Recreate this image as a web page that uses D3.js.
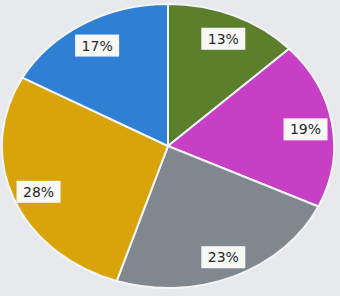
<!DOCTYPE html>
<html>
<head>
<meta charset="utf-8">
<script src="https://cdn.jsdelivr.net/npm/d3@7"></script>
<style>
  body { margin: 0; background: #e7e9ed; }
  svg { display: block; }
</style>
</head>
<body>
<div id="chart"></div>
<script>
const w = 340;
const h = 296;
const cx = 168;
const cy = 146;
const radius = 142;
const stretch = 1.17;

const categories = ["A", "B", "C", "D", "E"];
const values = [13, 19, 23, 28, 17];
const labels = ["13%", "19%", "23%", "28%", "17%"];
const colors = ["#5b7f2b", "#c73fc4", "#80878f", "#d8a40a", "#2f80d4"];

const svg = d3.select("#chart").append("svg").attr("width", w).attr("height", h);
svg.append("rect").attr("width", w).attr("height", h).attr("fill", "#e7e9ed");

const pie = d3.pie().sort(null).value((d) => d.value);
const arcs = pie(categories.map((c, i) => ({ cat: c, value: values[i], label: labels[i] })));
const arc = d3.arc().innerRadius(0).outerRadius(radius);
const labelArc = d3.arc().innerRadius(119).outerRadius(119);
const color = d3.scaleOrdinal().domain(categories).range(colors);

const g = svg.append("g").attr("transform", `translate(${cx},${cy}) scale(${stretch},1)`);
g.selectAll("path")
  .data(arcs)
  .enter()
  .append("path")
  .attr("d", arc)
  .attr("fill", (d) => color(d.data.cat))
  .attr("stroke", "#f4f5f7")
  .attr("stroke-width", 2)
  .attr("vector-effect", "non-scaling-stroke");

const lab = svg
  .selectAll("g.lab")
  .data(arcs)
  .enter()
  .append("g")
  .attr("class", "lab")
  .attr("transform", (d) => {
    const [x, y] = labelArc.centroid(d);
    return `translate(${cx + x * stretch},${cy + y + 2})`;
  });

lab.append("rect")
  .attr("x", -22)
  .attr("y", -11)
  .attr("width", 44)
  .attr("height", 22)
  .attr("fill", "#f7f8f6");

lab.append("text")
  .text((d) => d.data.label)
  .attr("text-anchor", "middle")
  .attr("dy", "0.36em")
  .attr("font-family", "DejaVu Sans, sans-serif")
  .attr("font-size", 14)
  .attr("font-weight", 500)
  .attr("fill", "#25282c");
</script>
</body>
</html>
